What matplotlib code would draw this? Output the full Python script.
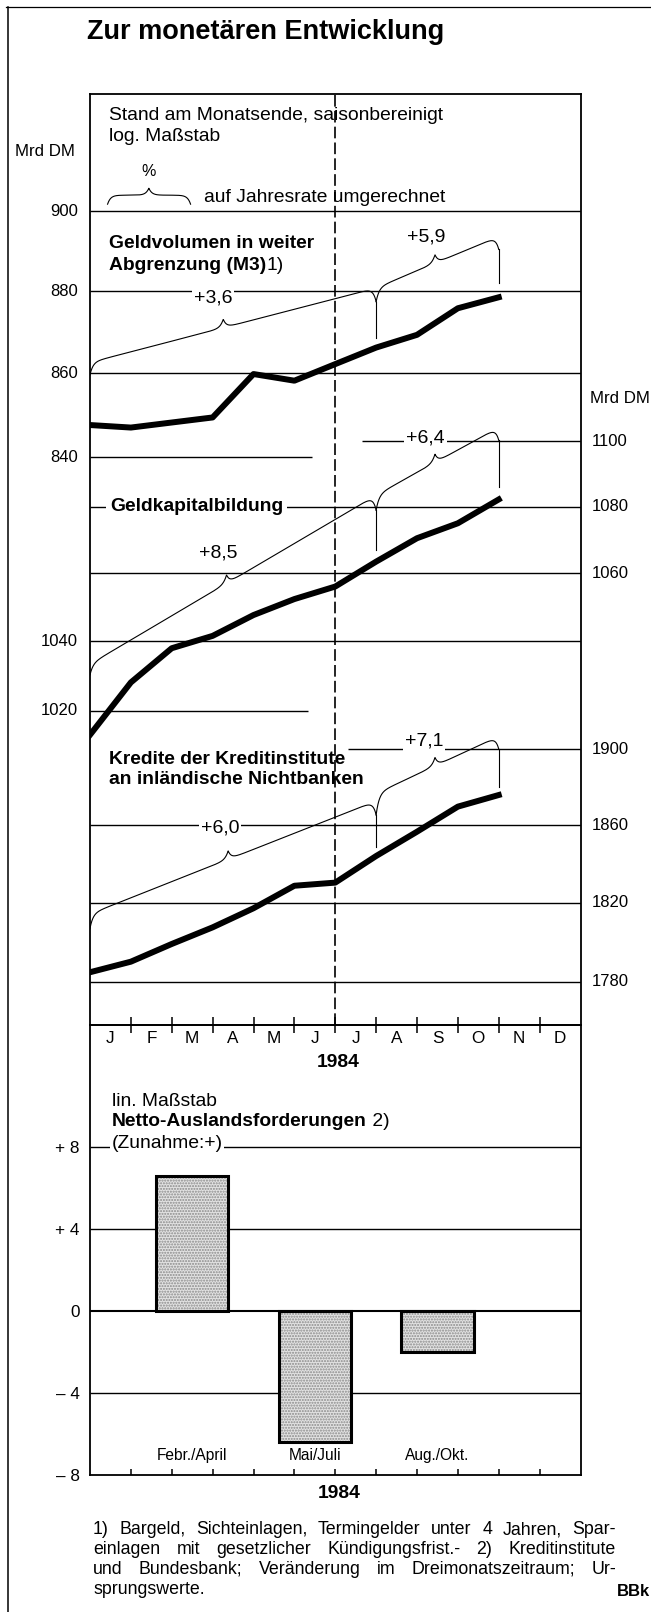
import numpy as np
import matplotlib
matplotlib.use('Agg')
import matplotlib.pyplot as plt
from matplotlib.lines import Line2D
from matplotlib.ticker import NullLocator
from matplotlib.transforms import blended_transform_factory

plt.rcParams['font.family'] = ['Liberation Sans', 'DejaVu Sans']

# ---- Daten ----
monate = ['J', 'F', 'M', 'A', 'M', 'J', 'J', 'A', 'S', 'O', 'N', 'D']
# Monatsendstände Dez. 1983 bis Okt. 1984, Mrd DM
m3_werte = [847.6, 847.0, 848.2, 849.4, 859.8, 858.2, 862.2, 866.2, 869.3, 875.8, 878.5]
geldkapital_werte = [1013.1, 1028.1, 1038.0, 1041.6, 1047.7, 1052.4, 1056.1, 1063.5, 1070.5, 1075.0, 1082.2]
kredite_werte = [1784.8, 1790.1, 1799.0, 1807.4, 1817.1, 1828.6, 1830.2, 1843.9, 1856.5, 1869.6, 1875.7]

m3_ticks = [840, 860, 880, 900]
geldkapital_links = [1020, 1040]
geldkapital_rechts = [1060, 1080, 1100]
kredite_ticks = [1780, 1820, 1860, 1900]

m3_raten = ['+3,6', '+5,9']
geldkapital_raten = ['+8,5', '+6,4']
kredite_raten = ['+6,0', '+7,1']

# Netto-Auslandsforderungen, Veränderung im Dreimonatszeitraum (Mrd DM)
zeitraeume = ['Febr./April', 'Mai/Juli', 'Aug./Okt.']
zeitraum_mitte = [2.5, 5.5, 8.5]
auslandsforderungen = [6.6, -6.4, -2.0]
bar_ticks = [-8, -4, 0, 4, 8]
bar_ticklabels = ['– 8', '– 4', '0', '+ 4', '+ 8']

fussnote = ['1) Bargeld, Sichteinlagen, Termingelder unter 4 Jahren, Spar-',
            'einlagen mit gesetzlicher Kündigungsfrist.- 2) Kreditinstitute',
            'und Bundesbank; Veränderung im Dreimonatszeitraum; Ur-',
            'sprungswerte.']

# ---- Layout (Pixel, von oben links) ----
W, H = 651, 1612
LEFT, RIGHT, TOP, MID, BOTTOM = 90, 580.5, 94, 1025, 1475
K = 3568  # Pixel je ln-Einheit (log. Maßstab)
FS = 13.9  # Grundschrift


def fx(x):
    return x / W


def fy(y):
    return 1 - y / H


def log_grenzen(wert, px):
    return wert * np.exp((px - MID) / K), wert * np.exp((px - TOP) / K)


fig = plt.figure(figsize=(W / 100, H / 100), dpi=100)
renderer = fig.canvas.get_renderer()

ax_m3 = fig.add_axes([fx(LEFT), fy(MID), (RIGHT - LEFT) / W, (MID - TOP) / H])
ax_gk = ax_m3.twinx()
ax_kr = ax_m3.twinx()

ax_m3.set_xlim(0, 12)
for ax, (wert, px) in zip([ax_m3, ax_gk, ax_kr], [(900, 211), (1080, 506.7), (1860, 825)]):
    ax.set_yscale('log')
    ax.set_ylim(*log_grenzen(wert, px))
    ax.yaxis.set_major_locator(NullLocator())
    ax.yaxis.set_minor_locator(NullLocator())
    ax.yaxis.set_visible(False)
for ax in [ax_gk, ax_kr]:
    for s in ax.spines.values():
        s.set_visible(False)
for s in ax_m3.spines.values():
    s.set_linewidth(1.3)

# Monatsachse
ax_m3.set_xticks(range(1, 12))
ax_m3.set_xticks(np.arange(0.5, 12), labels=monate, minor=True)
ax_m3.tick_params(axis='x', which='major', direction='inout', length=11.5, width=1.1,
                  labelbottom=False)
ax_m3.tick_params(axis='x', which='minor', length=0, pad=4, labelsize=12.3)
ax_m3.axvline(6, color='black', lw=1.2, ls=(0, (7, 2.5)), zorder=2)


def gitter(ax, wert, von=0, bis=12):
    ax.hlines(wert, von, bis, color='black', lw=1.0, zorder=1)


def beschriftung(ax, werte, rechts=False):
    tr = blended_transform_factory(ax.transAxes, ax.transData)
    for v in werte:
        if rechts:
            ax.text(1.0228, v, str(v), transform=tr, ha='left', va='center', fontsize=12)
        else:
            ax.text(-0.0245, v, str(v), transform=tr, ha='right', va='center', fontsize=12)


def klammer(ax, m0, m1, v0, v1, h0, h1, mc, spitze=8.5, w=3.0):
    # geschweifte Klammer entlang einer schraegen Linie (Pixelgeometrie)
    p0 = ax.transData.transform((m0, v0))
    p1 = ax.transData.transform((m1, v1))
    xc = ax.transData.transform((mc, v0))[0]
    x = np.linspace(p0[0], p1[0], 1200)
    y = p0[1] + (p1[1] - p0[1]) * (x - p0[0]) / (p1[0] - p0[0])
    y = (y - h0 * np.exp(-(x - p0[0]) / w) - h1 * np.exp(-(p1[0] - x) / w)
         + spitze * np.exp(-np.abs(x - xc) / w))
    pts = ax.transData.inverted().transform(np.column_stack([x, y]))
    ax.plot(pts[:, 0], pts[:, 1], color='black', lw=0.8, zorder=3)
    return pts[-1]


def schwanz(ax, m, v_oben, v_unten):
    ax.plot([m, m], [v_oben, v_unten], color='black', lw=0.8, zorder=3)


def unter(ax, m, v, px):
    # Wert px Pixel unterhalb von (m, v)
    return ax.transData.inverted().transform(ax.transData.transform((m, v)) - [0, px])[1]


# M3
gitter(ax_m3, 900)
gitter(ax_m3, 880)
gitter(ax_m3, 860)
gitter(ax_m3, 840, bis=5.43)
beschriftung(ax_m3, m3_ticks)
ax_m3.plot(range(len(m3_werte)), m3_werte, color='black', lw=4.3,
           solid_joinstyle='round', zorder=5)
ende = klammer(ax_m3, 0, 7, 862.6, 880.8, 12.4, 13.7, 3.26)
klammer(ax_m3, 7, 10, 880.8, 893.6, 13.7, 13, 8.44)
schwanz(ax_m3, 7, ende[1], 868.5)
schwanz(ax_m3, 10, unter(ax_m3, 10, 893.6, 13), 881.9)
# Legendenklammer unter "%"
klammer(ax_m3, 0.43, 2.46, 904.0, 904.0, 9, 9, 1.44, spitze=7)

# Geldkapitalbildung
gitter(ax_gk, 1100, von=6.65)
gitter(ax_gk, 1080)
gitter(ax_gk, 1060)
gitter(ax_gk, 1040)
gitter(ax_gk, 1020, bis=5.34)
beschriftung(ax_gk, geldkapital_links)
beschriftung(ax_gk, geldkapital_rechts, rechts=True)
ax_gk.plot(range(len(geldkapital_werte)), geldkapital_werte, color='black', lw=4.3,
           solid_joinstyle='round', zorder=5)
ende = klammer(ax_gk, 0, 7, 1033.4, 1083.5, 10.8, 15, 3.34)
klammer(ax_gk, 7, 10, 1083.5, 1104.3, 15, 13, 8.44)
schwanz(ax_gk, 7, ende[1], 1067.0)
schwanz(ax_gk, 10, unter(ax_gk, 10, 1104.3, 13), 1086.1)

# Kredite
gitter(ax_kr, 1900, von=6.32)
gitter(ax_kr, 1860)
gitter(ax_kr, 1820)
gitter(ax_kr, 1780)
beschriftung(ax_kr, kredite_ticks, rechts=True)
ax_kr.plot(range(len(kredite_werte)), kredite_werte, color='black', lw=4.3,
           solid_joinstyle='round', zorder=5)
ende = klammer(ax_kr, 0, 7, 1814.2, 1872.6, 14.4, 14, 3.38)
klammer(ax_kr, 7, 10, 1876.5, 1906.9, 21.5, 13, 8.44)
schwanz(ax_kr, 7, ende[1], 1848.7)
schwanz(ax_kr, 10, unter(ax_kr, 10, 1906.9, 13), 1880.1)

# ---- Balken: Netto-Auslandsforderungen ----
ax_bar = fig.add_axes([fx(LEFT), fy(BOTTOM), (RIGHT - LEFT) / W, (BOTTOM - MID) / H])
ax_bar.patch.set_visible(False)
ax_bar.set_xlim(0, 12)
ax_bar.set_ylim(-8, 8 + (1147.3 - MID) / ((BOTTOM - 1147.3) / 16))
for s in ax_bar.spines.values():
    s.set_linewidth(1.3)
ax_bar.set_xticks(range(1, 12))
ax_bar.tick_params(axis='x', direction='in', length=4, width=1.1, labelbottom=False)
ax_bar.set_yticks(bar_ticks, bar_ticklabels)
ax_bar.tick_params(axis='y', length=0, pad=7.5, labelsize=12.3)
for v in [4, -4]:
    ax_bar.hlines(v, 0, 12, color='black', lw=1.0, zorder=1)
ax_bar.hlines(8, 0, 12, color='black', lw=1.0, zorder=1)
ax_bar.hlines(0, 0, 12, color='black', lw=1.5, zorder=1)
ax_bar.bar(zeitraum_mitte, auslandsforderungen, width=1.77, color='#e2e2e2',
           edgecolor='#8a8a8a', hatch='......', lw=0, zorder=3)
ax_bar.bar(zeitraum_mitte, auslandsforderungen, width=1.77, fill=False,
           edgecolor='black', lw=2.2, zorder=4)
for m, t in zip(zeitraum_mitte, zeitraeume):
    ax_bar.text(m, -7.05, t, ha='center', va='center', fontsize=11.2)

# ---- Texte ----
weiss = dict(facecolor='white', edgecolor='none', pad=1.5)


def txt(x, y, s, **kw):
    kw.setdefault('fontsize', FS)
    kw.setdefault('va', 'center')
    return fig.text(fx(x), fy(y), s, **kw)


txt(87, 31.7, 'Zur monetären Entwicklung', fontsize=19.5, fontweight='bold')
txt(109, 116, 'Stand am Monatsende, saisonbereinigt')
txt(109, 136.7, 'log. Maßstab')
txt(15, 151.7, 'Mrd DM', fontsize=12.2)
txt(149, 171.7, '%', fontsize=11.5, ha='center')
txt(204, 197.3, 'auf Jahresrate umgerechnet')
txt(109, 243.3, 'Geldvolumen in weiter', fontweight='bold')
t = txt(109, 265, 'Abgrenzung (M3)', fontweight='bold')
fig.add_artist(plt.Annotation('1)', xy=(1, 0), xycoords=t, va='bottom', fontsize=FS))
txt(590, 398.3, 'Mrd DM', fontsize=12.2)
txt(110, 506.7, 'Geldkapitalbildung', fontweight='bold',
    bbox=dict(facecolor='white', edgecolor='none', pad=3))
txt(109.3, 760, 'Kredite der Kreditinstitute', fontweight='bold')
txt(109.3, 780, 'an inländische Nichtbanken', fontweight='bold')

for (x, y), r in zip([(213, 298.3), (426.5, 236.7)], m3_raten):
    txt(x, y, r, fontsize=14, ha='center', bbox=weiss)
for (x, y), r in zip([(218, 553.3), (425.5, 438.3)], geldkapital_raten):
    txt(x, y, r, fontsize=14, ha='center', bbox=weiss)
for (x, y), r in zip([(220, 828.3), (424, 740.7)], kredite_raten):
    txt(x, y, r, fontsize=14, ha='center', bbox=weiss)

txt(338, 1062.7, '1984', fontweight='bold', ha='center')
txt(111.7, 1101.7, 'lin. Maßstab')
t = txt(111.7, 1121.7, 'Netto-Auslandsforderungen', fontweight='bold')
fig.add_artist(plt.Annotation(' 2)', xy=(1, 0), xycoords=t, va='bottom', fontsize=FS))
txt(111.7, 1143.3, '(Zunahme:+)', bbox=dict(facecolor='white', edgecolor='none', pad=1))
txt(339.5, 1494, '1984', fontweight='bold', ha='center')


def blocksatz(zeile, y, x0, x1):
    woerter = zeile.split(' ')
    texte = [txt(x0, y, w_, fontsize=12.8) for w_ in woerter]
    breiten = [tt.get_window_extent(renderer).width for tt in texte]
    luecke = (x1 - x0 - sum(breiten)) / (len(woerter) - 1)
    x = x0
    for tt, b in zip(texte, breiten):
        tt.set_x(fx(x))
        x += b + luecke


for zeile, y in zip(fussnote[:3], [1530, 1550, 1569.5]):
    blocksatz(zeile, y, 93, 616)
txt(93, 1589, fussnote[3], fontsize=12.8)
txt(650, 1592, 'BBk', fontsize=12, fontweight='bold', ha='right')

# Rahmen
fig.add_artist(Line2D([fx(6), fx(651)], [fy(7), fy(7)], color='black', lw=0.9))
fig.add_artist(Line2D([fx(8), fx(8)], [fy(7), fy(1612)], color='black', lw=1.1))

fig.savefig('out.png', dpi=100, facecolor='white')
